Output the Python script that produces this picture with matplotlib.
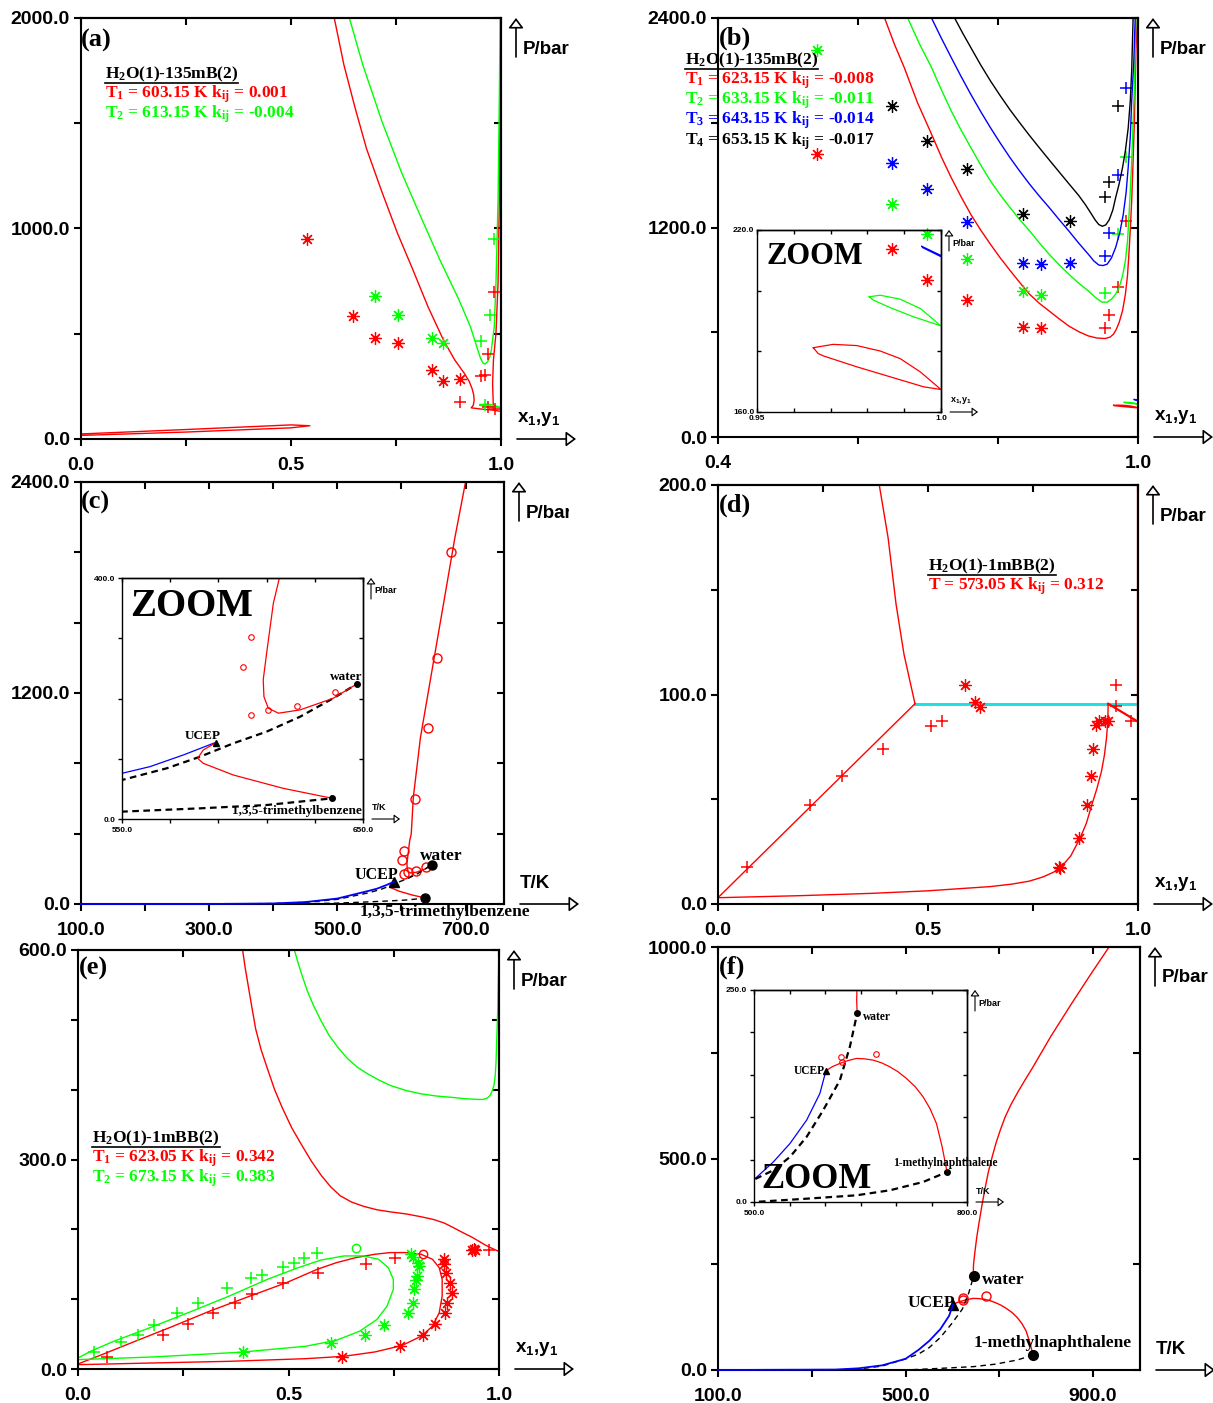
import matplotlib
matplotlib.use('Agg')
import matplotlib.pyplot as plt
from matplotlib.patches import FancyArrowPatch
from matplotlib.lines import Line2D
from matplotlib.transforms import Bbox

plt.rcParams.update({'font.family': 'Liberation Sans', 'font.weight': 'bold',
                     'mathtext.default': 'regular'})

W, H = 1213, 1403
RED, GREEN, BLUE, CYAN = '#ff0000', '#00ff00', '#0000ff', '#22e0e0'
SERIF = 'Liberation Serif'
STAR = (8, 2, 0)

########################################################################################################################
## (a) H2O-135mB, x-P
a_red_x = [0.603, 0.626, 0.653, 0.680, 0.717, 0.753, 0.790, 0.826, 0.863, 0.890, 0.913, 0.924, 0.931, 0.935,
           0.936, 0.934, 0.929, 0.954, 0.982, 1.0]
a_red_p = [2000, 1777, 1570, 1378, 1171, 980, 805, 629, 470, 375, 311, 275, 240, 210, 183, 160, 148, 142, 137, 131]
a_red_right_x = [0.982, 0.980, 0.982, 0.988, 0.993, 0.996, 0.998, 1.0]
a_red_right_p = [137, 263, 375, 502, 741, 1139, 1618, 2000]
a_red_loop_x = [0.0, 0.25, 0.5, 0.545, 0.5, 0.25, 0.0]
a_red_loop_p = [17, 33, 53, 63, 67, 45, 24]
a_green_x = [0.639, 0.671, 0.717, 0.763, 0.808, 0.854, 0.900, 0.927, 0.945, 0.951, 0.957, 0.962, 0.968, 0.973,
             0.977, 0.984, 0.988, 0.993, 0.996, 0.998]
a_green_p = [2000, 1777, 1506, 1267, 1060, 853, 661, 534, 422, 385, 361, 356, 367, 388, 422, 534, 741, 1139, 1618,
             2000]
a_green_loop_x = [0.950, 0.970, 1.0, 0.970, 0.950]
a_green_loop_p = [164, 166, 150, 153, 160]
a_red_star_x = [0.539, 0.648, 0.699, 0.755, 0.836, 0.861, 0.902]
a_red_star_p = [948, 585, 478, 454, 327, 276, 287]
a_red_plus_x = [0.984, 0.968, 0.953, 0.962, 0.902, 0.968, 0.986]
a_red_plus_p = [698, 403, 300, 305, 175, 151, 143]
a_green_star_x = [0.699, 0.755, 0.836, 0.861]
a_green_star_p = [677, 590, 478, 454]
a_green_plus_x = [0.984, 0.973, 0.953, 0.963]
a_green_plus_p = [948, 590, 465, 162]

## (b) H2O-135mB, four isotherms
b_t1_x = [0.638, 0.652, 0.666, 0.685, 0.705, 0.719, 0.733, 0.747, 0.761, 0.775, 0.789, 0.803, 0.817, 0.831, 0.845,
          0.859, 0.873, 0.887, 0.901, 0.915, 0.929, 0.941, 0.953, 0.960, 0.965, 0.969, 0.973, 0.978, 0.982, 0.985,
          0.987, 0.989, 0.991, 0.993, 0.995, 0.997, 0.999]
b_t1_p = [2400, 2250, 2117, 1915, 1735, 1605, 1487, 1378, 1276, 1187, 1105, 1027, 955, 885, 818, 766, 722, 678, 636,
          604, 579, 567, 564, 572, 589, 617, 655, 725, 818, 925, 1047, 1190, 1353, 1580, 1831, 2213, 2400]
b_t2_x = [0.671, 0.688, 0.705, 0.719, 0.733, 0.747, 0.761, 0.775, 0.789, 0.803, 0.817, 0.831, 0.845, 0.859, 0.873,
          0.887, 0.901, 0.915, 0.929, 0.939, 0.948, 0.956, 0.962, 0.968, 0.973, 0.978, 0.982, 0.985, 0.987, 0.989,
          0.991, 0.993, 0.995, 0.997]
b_t2_p = [2400, 2250, 2117, 1990, 1869, 1760, 1659, 1560, 1468, 1388, 1315, 1245, 1181, 1112, 1047, 988, 933, 882,
          837, 800, 773, 772, 789, 818, 856, 925, 1009, 1120, 1257, 1410, 1582, 1800, 2022, 2400]
b_t3_x = [0.705, 0.719, 0.733, 0.747, 0.761, 0.775, 0.789, 0.803, 0.817, 0.831, 0.845, 0.859, 0.873, 0.887, 0.901,
          0.915, 0.929, 0.937, 0.944, 0.950, 0.956, 0.962, 0.968, 0.974, 0.979, 0.983, 0.986, 0.989, 0.991, 0.994,
          0.996]
b_t3_p = [2400, 2285, 2175, 2067, 1964, 1866, 1773, 1685, 1601, 1523, 1449, 1380, 1315, 1247, 1181, 1112, 1047, 1008,
          985, 982, 990, 1025, 1085, 1170, 1276, 1400, 1544, 1720, 1926, 2150, 2400]
b_t4_x = [0.738, 0.750, 0.761, 0.775, 0.789, 0.803, 0.817, 0.831, 0.845, 0.859, 0.873, 0.887, 0.901, 0.915, 0.925,
          0.933, 0.939, 0.944, 0.949, 0.954, 0.959, 0.964, 0.968, 0.973, 0.978, 0.982, 0.986, 0.989, 0.991, 0.993]
b_t4_p = [2400, 2310, 2232, 2133, 2041, 1956, 1875, 1800, 1727, 1657, 1588, 1520, 1452, 1385, 1330, 1280, 1242, 1217,
          1207, 1215, 1245, 1300, 1370, 1449, 1545, 1640, 1770, 1926, 2100, 2400]
b_loop1_x = [0.9653, 0.9707, 0.9771, 0.9835, 0.9889, 0.9944, 1.0, 0.9953, 0.9862, 0.9771, 0.968, 0.9666, 0.9653]
b_loop1_p = [181.2, 182.3, 181.9, 180.1, 177.6, 173.2, 167.4, 168.3, 171.6, 174.9, 178.5, 179.3, 181.2]
b_loop2_x = [0.9805, 0.9835, 0.9889, 0.9944, 1.0, 0.9925, 0.9862, 0.9816, 0.9805]
b_loop2_p = [198.0, 198.5, 197.2, 194.1, 188.4, 191.4, 194.4, 196.9, 198.0]
b_loop3_x = [0.9948, 1.0, 1.0, 0.9950, 0.9948]
b_loop3_p = [214.6, 211.6, 211.2, 214.2, 214.6]
b_star_x = {'t1': [0.541, 0.649, 0.699, 0.755, 0.836, 0.861],
            't2': [0.541, 0.649, 0.699, 0.755, 0.836, 0.861],
            't3': [0.649, 0.699, 0.755, 0.836, 0.861, 0.903],
            't4': [0.649, 0.699, 0.755, 0.836, 0.903]}
b_star_p = {'t1': [1620, 1076, 899, 787, 629, 623],
            't2': [2218, 1336, 1164, 1018, 837, 812],
            't3': [1569, 1419, 1232, 999, 990, 999],
            't4': [1897, 1697, 1534, 1276, 1238]}
b_plus_x = {'t1': [0.983, 0.972, 0.959, 0.953],
            't2': [0.983, 0.972, 0.953],
            't3': [0.983, 0.972, 0.959, 0.953],
            't4': [0.972, 0.959, 0.953]}
b_plus_p = {'t1': [1238, 862, 699, 623],
            't2': [1601, 1164, 824],
            't3': [1997, 1502, 1171, 1034],
            't4': [1894, 1462, 1372]}

## (c) H2O-135mB, critical curves (T-P)
c_crit_t = [647.4, 637.7, 623.9, 614.9, 610.7, 608.9, 608.6, 610.0, 612.8, 615.3, 618.5, 629.6, 647.5, 665.4,
            683.3, 700.0, 705.0]
c_crit_p = [224, 200.5, 181.1, 175.6, 184, 203, 231, 275, 358, 400, 606, 946, 1325, 1703, 2082, 2400, 2500]
c_ucep_t = [589.0, 583.7, 581.4, 583.7, 596.2, 616.9, 637.3]
c_ucep_p = [126.7, 114.5, 100.7, 92.4, 73.0, 50.9, 34.3]
c_llv_t = [100, 300, 400, 450, 500, 550, 561.6, 575.4, 587.9, 589.0]
c_llv_p = [0, 0.05, 3, 11, 31, 75.8, 86.9, 106.2, 125.6, 126.7]
c_water_t = [100, 300, 400, 450, 500, 550, 568.5, 582.4, 596.2, 610.0, 623.9, 637.7, 647.4]
c_water_p = [0, 0.04, 2.5, 9.3, 26.4, 64.7, 84.1, 103.4, 125.6, 145, 169.8, 200.5, 224]
c_tmb_t = [100, 300, 400, 450, 500, 550, 582.4, 610.0, 637.3]
c_tmb_p = [0, 0, 0.4, 1.6, 5, 12.2, 17.7, 23.2, 34.3]
c_circ_t = [603.4, 600.3, 603.4, 610.4, 622.5, 638.5, 621.8, 641.5, 655.2, 677.3]
c_circ_p = [302.9, 252, 173.4, 180.6, 187.8, 211.6, 596, 999, 1401, 2001]
c_cp_t = [647.4, 637.3]
c_cp_p = [224, 34.3]
c_ucep = (589.0, 126.7)

## (d) H2O-1mBB at 573.05 K
d_upper_x = [0.384, 0.405, 0.424, 0.443, 0.469]
d_upper_p = [200, 174.8, 143, 119, 95.6]
d_vap_x = [0.0, 0.469]
d_vap_p = [3.0, 95.6]
d_liq_x = [0.0, 0.2, 0.368, 0.5, 0.648, 0.700, 0.741, 0.775, 0.800, 0.820, 0.840, 0.862, 0.877, 0.890, 0.902,
           0.913, 0.920, 0.925, 0.928, 0.929]
d_liq_p = [3.0, 4.0, 5.1, 6.3, 8.3, 9.5, 10.9, 13.0, 15.3, 18.3, 23.0, 31.4, 38.5, 47.3, 55.0, 63.3, 71.0, 79.2,
           87.0, 95.6]
d_right_x = [0.929, 1.0, 1.0]
d_right_p = [95.6, 87, 200]
d_three_x = [0.469, 1.0]
d_three_p = [95.6, 95.6]
d_plus_x = [0.068, 0.22, 0.296, 0.393, 0.506, 0.534, 0.948, 0.948, 0.983]
d_plus_p = [17.8, 47.3, 60.9, 74.1, 84.8, 87.2, 104.6, 94.7, 87.2]
d_star_x = [0.588, 0.612, 0.624, 0.811, 0.814, 0.860, 0.879, 0.888, 0.894, 0.901, 0.907, 0.921, 0.929]
d_star_p = [104.6, 96.6, 93.8, 17.8, 17.2, 31.7, 47.3, 61.2, 74.1, 85.3, 87.2, 87.2, 87.2]

## (e) H2O-1mBB, two isotherms
e_red_up_x = [0.391, 0.397, 0.404, 0.413, 0.422, 0.435, 0.450, 0.467, 0.486, 0.508, 0.532, 0.555, 0.578, 0.600,
              0.623, 0.650, 0.678, 0.710, 0.742, 0.780, 0.815, 0.845, 0.870, 0.893, 0.915, 0.935, 0.952, 0.966,
              0.979, 0.990, 0.997, 1.0, 1.0]
e_red_up_p = [600, 575, 550, 518, 487, 457, 430, 400, 373, 345, 320, 297, 277, 261, 248, 239, 233, 228, 225, 222,
              218, 214, 209, 202, 195, 189, 183, 178, 174, 171, 169, 171, 600]
e_red_loop_x = [0.0, 0.176, 0.359, 0.541, 0.632, 0.705, 0.769, 0.815, 0.842, 0.858, 0.865, 0.865, 0.858, 0.842,
                0.815, 0.778, 0.742, 0.705, 0.660, 0.614, 0.568, 0.495, 0.404, 0.313, 0.222, 0.130, 0.057, 0.0]
e_red_loop_p = [6.2, 8.6, 11, 14.8, 18.2, 24.4, 33.5, 46.9, 61.3, 80.5, 104.4, 128.4, 145.1, 157.1, 164.3, 166.7,
                166.7, 164.3, 159.5, 152.3, 142.7, 123.6, 103.4, 82.9, 60.3, 38.3, 20.6, 7.2]
e_green_up_x = [0.514, 0.522, 0.532, 0.545, 0.559, 0.577, 0.596, 0.618, 0.641, 0.664, 0.687, 0.714, 0.742, 0.778,
                0.815, 0.850, 0.888, 0.920, 0.952, 0.963, 0.972, 0.978, 0.983, 0.988, 0.991, 0.993, 0.995, 0.997,
                0.998, 1.0]
e_green_up_p = [600, 583, 564, 541, 521, 499, 478, 460, 444, 432, 423, 414, 406, 399, 394, 391, 389, 387, 386, 386,
                388, 391, 397, 406, 420, 440, 478, 515, 550, 600]
e_green_loop_x = [0.0, 0.176, 0.386, 0.541, 0.614, 0.669, 0.710, 0.734, 0.749, 0.749, 0.737, 0.714, 0.678, 0.632,
                  0.578, 0.523, 0.450, 0.359, 0.267, 0.176, 0.085, 0.030, 0.0]
e_green_loop_p = [13.4, 17.2, 24, 32.6, 41.2, 54.1, 70.9, 90, 114, 128.4, 145.1, 157.1, 161.9, 161.9, 156.1, 145.1,
                  128.4, 104.4, 81.9, 60.3, 39.7, 25.4, 15.8]
e_green_plus_x = [0.039, 0.103, 0.142, 0.181, 0.234, 0.284, 0.354, 0.412, 0.436, 0.486, 0.512, 0.538, 0.567]
e_green_plus_p = [24.4, 38.3, 49.3, 63.7, 80.5, 94.8, 115.4, 129.8, 134.6, 146.5, 152.3, 159.5, 166.7]
e_green_star_x = [0.392, 0.600, 0.682, 0.728, 0.783, 0.795, 0.797, 0.806, 0.804, 0.810, 0.808, 0.792, 0.795]
e_green_star_p = [24.4, 37.4, 49.3, 63.7, 80.5, 94.8, 115, 133, 128, 147.7, 152, 164.3, 160]
e_green_circ = (0.660, 173.9)
e_red_plus_x = [0.068, 0.203, 0.261, 0.320, 0.372, 0.413, 0.488, 0.571, 0.684, 0.754, 0.977]
e_red_plus_p = [17.2, 49.3, 64.7, 80.5, 94.8, 107.7, 123.5, 136.9, 150.8, 158.5, 170.5]
e_red_star_x = [0.626, 0.766, 0.819, 0.849, 0.871, 0.877, 0.888, 0.883, 0.874, 0.870, 0.870, 0.940, 0.936, 0.944]
e_red_star_p = [17.2, 33.5, 49.3, 65.1, 80.5, 94.8, 108.2, 123.5, 137.9, 149.9, 158, 171.5, 170.5, 171]
e_red_circ = (0.819, 164.3)

## (f) H2O-1mBB, critical curves (T-P)
f_crit_t = [645.3, 644.6, 645.0, 648.0, 652.0, 657.0, 663.0, 670.0, 677.0, 685.0, 693.0, 702.0, 712.0, 725.0,
            740.0, 755.0, 770.0, 810.0, 854.0, 894.0, 934.0, 960.0]
f_crit_p = [222.4, 238, 250, 280, 315, 350, 390, 432, 470, 505, 537, 567, 597, 628, 658, 686, 713, 789, 866, 934,
            1000, 1042]
f_ucep_t = [601.3, 610.0, 621.0, 632.0, 644.4, 656.0, 667.8, 680.0, 691.3, 703.0, 714.7, 727.0, 738.2, 748.0,
            757.0, 765.0, 771.9]
f_ucep_p = [154.7, 159.5, 163.4, 166.7, 169.3, 168.8, 167.3, 164.0, 159.4, 153.5, 145.7, 136.0, 124.0, 110.0, 92.5,
            65.0, 35.4]
f_llv_t = [100, 350, 400, 450, 500, 527.2, 550.6, 574.1, 592.8, 601.3]
f_llv_p = [0, 1, 4, 11, 26.4, 47.2, 68.9, 96.5, 128, 154.7]
f_water_t = [100, 350, 400, 450, 500, 527.2, 550.6, 574.1, 597.5, 621.0, 635.0, 645.3]
f_water_p = [0, 0.4, 2.5, 9.3, 26.4, 37.4, 53.1, 76.8, 108.3, 143.7, 183, 222.4]
f_mn_t = [100, 400, 500, 574.1, 644.4, 691.3, 738.2, 771.9]
f_mn_p = [0, 0, 0, 3.9, 7.9, 13.8, 23.6, 35.4]
f_circ_t = [622.4, 623.3, 672.5]
f_circ_p = [171.3, 165.4, 174.4]
f_cp_t = [645.3, 771.9]
f_cp_p = [222.4, 35.4]
f_ucep = (601.3, 154.7)

UNDERLINE = []


########################################################################################################################
def px(x):
    return x / W


def py(y):
    return 1 - y / H


def box(fig, x0, y0, x1, y1):
    return fig.add_axes([px(x0), py(y1), (x1 - x0) / W, (y1 - y0) / H])


def frame(ax, xlim, ylim, xt, xl, yt, yl, size=14, length=5, lw=1.5, xpad=8, ypad=3, inward=False):
    ax.set_facecolor('none')
    ax.set_xlim(*xlim)
    ax.set_ylim(*ylim)
    ax.set_xticks(xt, xl)
    ax.set_yticks(yt, yl)
    d = 'in' if inward else 'out'
    ax.tick_params(axis='x', direction=d, length=length, width=lw, labelsize=size, pad=xpad)
    ax.tick_params(axis='y', direction=d, length=length, width=lw, labelsize=size, pad=ypad)
    for s in ax.spines.values():
        s.set_linewidth(lw)
    top = ax.secondary_xaxis('top')
    top.set_xticks(xt)
    top.tick_params(direction='in', length=length, width=lw, labeltop=False)
    right = ax.secondary_yaxis('right')
    right.set_yticks(yt)
    right.tick_params(direction='in', length=length, width=lw, labelright=False)
    for sec in (top, right):
        for s in sec.spines.values():
            s.set_linewidth(lw)


def arrow(fig, x0, y0, x1, y1, ms=10, lw=1.2):
    fig.add_artist(FancyArrowPatch((px(x0), py(y0)), (px(x1), py(y1)), transform=fig.transFigure,
                                   arrowstyle='-|>,head_length=0.6,head_width=0.45', mutation_scale=ms,
                                   fc='white', ec='black', lw=lw, shrinkA=0, shrinkB=0))


def names(fig, right, top, bottom, xname, size=13.5, dx=15, alen=39, tdx=22, tdy=31, xdy=20, xlen=59,
          ms=10, lw=1.2, clipx=None):
    arrow(fig, right + dx, top + alen, right + dx, top, ms, lw)
    t = fig.text(px(right + tdx), py(top + tdy), 'P/bar', fontsize=size, va='center', ha='left')
    if clipx is not None:
        t.set_clip_box(Bbox.from_extents(0, 0, clipx, H))
        t.set_clip_on(True)
    fig.text(px(right + dx + 1), py(bottom - xdy), xname, fontsize=size, va='center', ha='left')
    arrow(fig, right + dx + 1, bottom, right + dx + 1 + xlen, bottom, ms, lw)


def small_names(fig, right, top, bottom, xname):
    names(fig, right, top, bottom, xname, size=6.5, dx=8, alen=21, tdx=11, tdy=13, xdy=11, xlen=28, ms=6, lw=0.8)


def legend(fig, x, y, lines, colors, size=12.5, step=20.2):
    texts = []
    for i, (s, c) in enumerate(zip(lines, colors)):
        texts.append(fig.text(px(x), py(y + i * step), s, color=c, fontsize=size, family=SERIF,
                              va='center', ha='left'))
    UNDERLINE.append(texts[0])


def label(fig, x, y, s, size=12.5, ha='left'):
    fig.text(px(x), py(y), s, fontsize=size, family=SERIF, va='center', ha=ha)


def tag(fig, x, y, s):
    fig.text(px(x), py(y), s, fontsize=19, family=SERIF, va='center', ha='left')


def stars(ax, x, y, color, ms=9, mew=0.9):
    ax.plot(x, y, ls='none', marker=STAR, ms=ms, mew=mew, color=color)


def pluses(ax, x, y, color, ms=9, mew=1.1):
    ax.plot(x, y, ls='none', marker='+', ms=ms, mew=mew, color=color)


def circles(ax, x, y, color, ms=6, mew=1.0):
    ax.plot(x, y, ls='none', marker='o', ms=ms, mew=mew, mfc='none', mec=color)


def floor_line(ax, x, y, **kw):
    # lines that run along P = 0 are drawn over the bottom spine, as in the original
    ax.plot(x, y, clip_on=False, zorder=3, **kw)


########################################################################################################################
fig = plt.figure(figsize=(W / 100, H / 100), dpi=100)
LW = 1.0

## (a)
ax = box(fig, 81, 18, 501, 439)
frame(ax, (0, 1), (0, 2000), [0, .25, .5, .75, 1], ['0.0', '', '0.5', '', '1.0'],
      [0, 500, 1000, 1500, 2000], ['0.0', '', '1000.0', '', '2000.0'])
ax.plot(a_red_x, a_red_p, color=RED, lw=LW)
ax.plot(a_red_right_x, a_red_right_p, color=RED, lw=LW)
ax.plot(a_red_loop_x, a_red_loop_p, color=RED, lw=LW)
ax.plot(a_green_x, a_green_p, color=GREEN, lw=LW)
ax.plot(a_green_loop_x, a_green_loop_p, color=GREEN, lw=LW)
stars(ax, a_red_star_x, a_red_star_p, RED)
pluses(ax, a_red_plus_x, a_red_plus_p, RED)
stars(ax, a_green_star_x, a_green_star_p, GREEN)
pluses(ax, a_green_plus_x, a_green_plus_p, GREEN)
names(fig, 501, 18, 439, 'x$_1$,y$_1$')
tag(fig, 81, 40, '(a)')
legend(fig, 105, 74, ['H$_2$O(1)-135mB(2)', 'T$_1$ = 603.15 K k$_{ij}$ = 0.001',
                      'T$_2$ = 613.15 K k$_{ij}$ = -0.004'], ['black', RED, GREEN])

## (b)
ax = box(fig, 718, 18, 1138, 437)
frame(ax, (0.4, 1.0), (0, 2400), [0.4, 0.6, 0.8, 1.0], ['0.4', '', '', '1.0'],
      [0, 600, 1200, 1800, 2400], ['0.0', '', '1200.0', '', '2400.0'])
for key, c, xs, ps in [('t1', RED, b_t1_x, b_t1_p), ('t2', GREEN, b_t2_x, b_t2_p),
                       ('t3', BLUE, b_t3_x, b_t3_p), ('t4', 'black', b_t4_x, b_t4_p)]:
    ax.plot(xs, ps, color=c, lw=LW)
    stars(ax, b_star_x[key], b_star_p[key], c)
    pluses(ax, b_plus_x[key], b_plus_p[key], c)
ax.plot(b_loop1_x, b_loop1_p, color=RED, lw=LW)
ax.plot(b_loop2_x, b_loop2_p, color=GREEN, lw=LW)
ax.plot(b_loop3_x, b_loop3_p, color=BLUE, lw=LW)
names(fig, 1138, 18, 437, 'x$_1$,y$_1$')
tag(fig, 719, 38, '(b)')
legend(fig, 685, 60, ['H$_2$O(1)-135mB(2)', 'T$_1$ = 623.15 K k$_{ij}$ = -0.008',
                      'T$_2$ = 633.15 K k$_{ij}$ = -0.011', 'T$_3$ = 643.15 K k$_{ij}$ = -0.014',
                      'T$_4$ = 653.15 K k$_{ij}$ = -0.017'], ['black', RED, GREEN, BLUE, 'black'])

ins = box(fig, 757, 230, 941, 412)
frame(ins, (0.95, 1.0), (160, 220), [0.95, 0.96, 0.97, 0.98, 0.99, 1.0], ['0.95', '', '', '', '', '1.0'],
      [160, 180, 200, 220], ['160.0', '', '', '220.0'], size=6, length=3, lw=1.0, xpad=2, ypad=2, inward=True)
ins.plot(b_loop1_x, b_loop1_p, color=RED, lw=0.9)
ins.plot(b_loop2_x, b_loop2_p, color=GREEN, lw=0.9)
ins.plot(b_loop3_x, b_loop3_p, color=BLUE, lw=0.9)
small_names(fig, 941, 230, 412, 'x$_1$,y$_1$')
label(fig, 766, 256, 'ZOOM', size=22)

## (c)
ax = box(fig, 81, 482, 504, 904)
frame(ax, (100, 760), (0, 2400), [100, 200, 300, 400, 500, 600, 700],
      ['100.0', '', '300.0', '', '500.0', '', '700.0'],
      [0, 400, 800, 1200, 1600, 2000, 2400], ['0.0', '', '', '1200.0', '', '', '2400.0'])
floor_line(ax, c_tmb_t, c_tmb_p, color='black', lw=LW, ls=(0, (4, 3)))
floor_line(ax, c_water_t, c_water_p, color='black', lw=LW, ls=(0, (4, 3)))
floor_line(ax, c_llv_t, c_llv_p, color=BLUE, lw=LW * 1.3)
ax.plot(c_crit_t, c_crit_p, color=RED, lw=LW)
ax.plot(c_ucep_t, c_ucep_p, color=RED, lw=LW)
circles(ax, c_circ_t, c_circ_p, RED, ms=6.5)
ax.plot(c_cp_t, c_cp_p, ls='none', marker='o', ms=6.5, color='black')
ax.plot(*c_ucep, marker='^', ms=7, color='black')
names(fig, 504, 482, 904, 'T/K', clipx=569)
tag(fig, 81, 502, '(c)')
label(fig, 420, 856, 'water')
label(fig, 355, 875, 'UCEP', size=11.5)
label(fig, 360, 912, '1,3,5-trimethylbenzene')

ins = box(fig, 122, 578, 363, 819)
frame(ins, (550, 650), (0, 400), [550, 570, 590, 610, 630, 650], ['550.0', '', '', '', '', '650.0'],
      [0, 100, 200, 300, 400], ['0.0', '', '', '', '400.0'], size=6, length=3, lw=1.0, xpad=3, ypad=2)
ins.plot(c_llv_t, c_llv_p, color=BLUE, lw=0.9)
ins.plot(c_water_t, c_water_p, color='black', lw=1.6, ls=(0, (3, 2)))
ins.plot(c_tmb_t, c_tmb_p, color='black', lw=1.6, ls=(0, (3, 2)))
ins.plot(c_crit_t, c_crit_p, color=RED, lw=0.9)
ins.plot(c_ucep_t, c_ucep_p, color=RED, lw=0.9)
circles(ins, c_circ_t, c_circ_p, RED, ms=4, mew=0.8)
ins.plot(c_cp_t, c_cp_p, ls='none', marker='o', ms=4, color='black')
ins.plot(*c_ucep, marker='^', ms=4.5, color='black')
small_names(fig, 363, 578, 819, 'T/K')
label(fig, 130, 607, 'ZOOM', size=28)
label(fig, 330, 677, 'water', size=9.5)
label(fig, 185, 736, 'UCEP', size=9.5)
label(fig, 232, 811, '1,3,5-trimethylbenzene', size=9.5)

## (d)
ax = box(fig, 718, 485, 1138, 904)
frame(ax, (0, 1), (0, 200), [0, .25, .5, .75, 1], ['0.0', '', '0.5', '', '1.0'],
      [0, 50, 100, 150, 200], ['0.0', '', '100.0', '', '200.0'])
ax.plot(d_three_x, d_three_p, color=CYAN, lw=2.2)
ax.plot(d_upper_x, d_upper_p, color=RED, lw=LW)
ax.plot(d_vap_x, d_vap_p, color=RED, lw=LW)
ax.plot(d_liq_x, d_liq_p, color=RED, lw=LW)
ax.plot(d_right_x, d_right_p, color=RED, lw=LW * 1.6)
pluses(ax, d_plus_x, d_plus_p, RED)
stars(ax, d_star_x, d_star_p, RED)
names(fig, 1138, 485, 904, 'x$_1$,y$_1$')
tag(fig, 719, 505, '(d)')
legend(fig, 928, 566, ['H$_2$O(1)-1mBB(2)', 'T = 573.05 K k$_{ij}$ = 0.312'], ['black', RED])

## (e)
ax = box(fig, 78, 950, 499, 1369)
frame(ax, (0, 1), (0, 600), [0, .25, .5, .75, 1], ['0.0', '', '0.5', '', '1.0'],
      [0, 100, 200, 300, 400, 500, 600], ['0.0', '', '', '300.0', '', '', '600.0'])
ax.plot(e_red_up_x, e_red_up_p, color=RED, lw=LW)
ax.plot(e_red_loop_x, e_red_loop_p, color=RED, lw=LW)
ax.plot(e_green_up_x, e_green_up_p, color=GREEN, lw=LW)
ax.plot(e_green_loop_x, e_green_loop_p, color=GREEN, lw=LW)
pluses(ax, e_green_plus_x, e_green_plus_p, GREEN)
stars(ax, e_green_star_x, e_green_star_p, GREEN)
circles(ax, [e_green_circ[0]], [e_green_circ[1]], GREEN, ms=6)
pluses(ax, e_red_plus_x, e_red_plus_p, RED)
stars(ax, e_red_star_x, e_red_star_p, RED)
circles(ax, [e_red_circ[0]], [e_red_circ[1]], RED, ms=6)
names(fig, 499, 950, 1369, 'x$_1$,y$_1$')
tag(fig, 79, 968, '(e)')
legend(fig, 92, 1138, ['H$_2$O(1)-1mBB(2)', 'T$_1$ = 623.05 K k$_{ij}$ = 0.342',
                       'T$_2$ = 673.15 K k$_{ij}$ = 0.383'], ['black', RED, GREEN])

## (f)
ax = box(fig, 718, 947, 1140, 1370)
frame(ax, (100, 1000), (0, 1000), [100, 300, 500, 700, 900], ['100.0', '', '500.0', '', '900.0'],
      [0, 250, 500, 750, 1000], ['0.0', '', '500.0', '', '1000.0'])
floor_line(ax, f_mn_t, f_mn_p, color='black', lw=LW, ls=(0, (4, 3)))
floor_line(ax, f_water_t, f_water_p, color='black', lw=LW, ls=(0, (4, 3)))
floor_line(ax, f_llv_t, f_llv_p, color=BLUE, lw=LW * 1.3)
ax.plot(f_crit_t, f_crit_p, color=RED, lw=LW)
ax.plot(f_ucep_t, f_ucep_p, color=RED, lw=LW)
circles(ax, f_circ_t, f_circ_p, RED, ms=6.5)
ax.plot(f_cp_t, f_cp_p, ls='none', marker='o', ms=7, color='black')
ax.plot(*f_ucep, marker='^', ms=7.5, color='black')
names(fig, 1140, 947, 1370, 'T/K')
tag(fig, 719, 967, '(f)')
label(fig, 982, 1280, 'water')
label(fig, 908, 1303, 'UCEP')
label(fig, 974, 1343, '1-methylnaphthalene')

ins = box(fig, 754, 990, 967, 1202)
frame(ins, (500, 800), (0, 250), [500, 550, 600, 650, 700, 750, 800], ['500.0', '', '', '', '', '', '800.0'],
      [0, 50, 100, 150, 200, 250], ['0.0', '', '', '', '', '250.0'], size=6, length=3, lw=1.0, xpad=3, ypad=2)
ins.plot(f_llv_t, f_llv_p, color=BLUE, lw=0.9)
ins.plot(f_water_t, f_water_p, color='black', lw=1.6, ls=(0, (3, 2)))
ins.plot(f_mn_t, f_mn_p, color='black', lw=1.6, ls=(0, (3, 2)))
ins.plot(f_crit_t, f_crit_p, color=RED, lw=0.9)
ins.plot(f_ucep_t, f_ucep_p, color=RED, lw=0.9)
circles(ins, f_circ_t, f_circ_p, RED, ms=4, mew=0.8)
ins.plot(f_cp_t, f_cp_p, ls='none', marker='o', ms=4, color='black')
ins.plot(*f_ucep, marker='^', ms=4.5, color='black')
small_names(fig, 967, 990, 1202, 'T/K')
label(fig, 761, 1180, 'ZOOM', size=25)
label(fig, 863, 1017, 'water', size=8.3)
label(fig, 794, 1071, 'UCEP', size=8.3)
label(fig, 893, 1163, '1-methylnaphthalene', size=8.3)

## underline the system names
renderer = fig.canvas.get_renderer()
for t in UNDERLINE:
    bb = t.get_window_extent(renderer)
    fig.add_artist(Line2D([bb.x0 / W, bb.x1 / W], [(bb.y0 + 0.5) / H] * 2, transform=fig.transFigure,
                          color='black', lw=1.2))

fig.savefig('out.png', dpi=100)
